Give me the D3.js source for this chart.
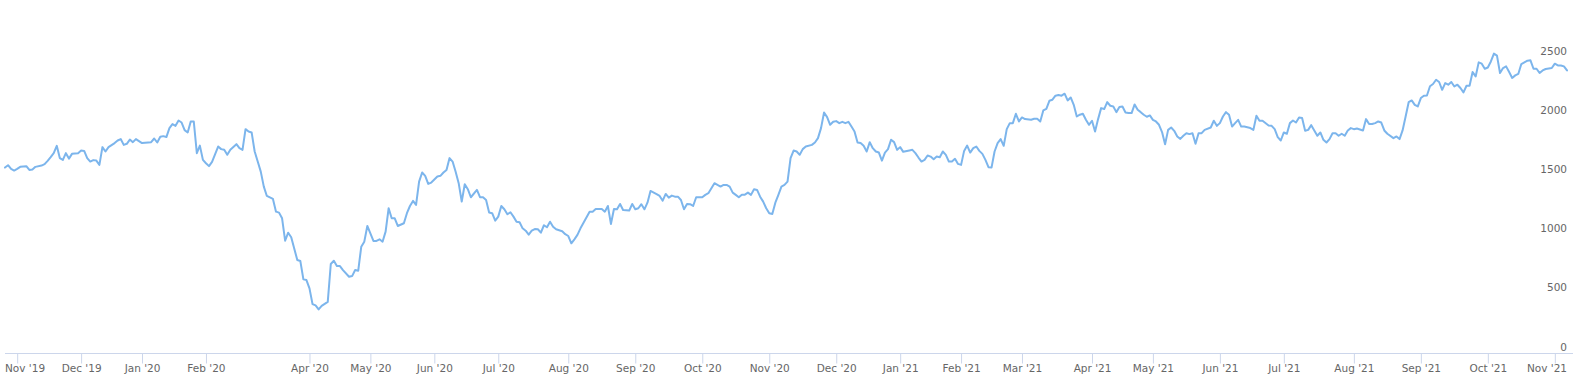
<!DOCTYPE html>
<html>
<head>
<meta charset="utf-8">
<script src="https://cdn.jsdelivr.net/npm/d3@7"></script>
<style>
    body { margin: 0; background: #fff; }
    text { font-family: "DejaVu Sans", Verdana, sans-serif; }
</style>
</head>
<body>
<div id="svganchor"></div>
<script>
let width = 1573;
let height = 385;
let margin = ({top: 58, right: 6, bottom: 31.5, left: 5});

// Trading-day index (ordinal position) of each point
let days = [0,1,2,3,4,5,7,8,9,10,12,13,14,15,16,17,18,19,20,21,22,24,25,26,27,28,29,30,31,32,33,34,36,37,38,39,40,41,42,43,45,47,48,49,50,51,52,53,54,55,56,57,58,59,60,61,62,63,64,65,66,67,68,70,71,72,73,74,76,77,78,79,80,81,82,83,84,85,86,88,89,90,91,92,93,94,96,97,98,99,100,101,102,103,104,106,107,108,109,110,111,113,114,115,116,117,118,119,120,121,122,123,124,125,126,127,128,129,131,132,133,134,135,136,137,138,139,140,142,143,144,145,146,147,148,149,150,151,152,153,155,156,157,158,159,160,161,162,163,164,165,166,167,168,169,170,171,172,173,174,175,176,177,178,179,180,181,183,184,185,186,187,188,189,190,192,193,194,196,197,198,199,200,201,202,203,205,206,207,208,209,210,211,212,214,215,216,217,218,219,220,221,222,223,224,225,226,227,228,229,230,231,232,233,234,235,236,237,238,239,240,241,242,243,244,245,246,247,248,249,250,251,252,253,254,255,256,257,258,259,260,261,262,263,265,266,267,268,269,270,271,272,273,274,275,276,277,278,279,280,281,282,283,284,285,286,287,288,289,290,291,292,293,294,295,297,298,299,300,301,302,303,304,305,306,307,308,309,310,311,312,313,314,315,316,317,318,319,320,321,322,323,324,325,326,327,328,329,330,331,332,333,334,335,337,338,339,340,341,342,343,344,345,346,347,348,349,350,351,352,353,354,355,356,357,358,359,360,361,362,363,364,365,366,367,368,369,370,371,372,373,374,375,376,377,378,379,380,381,382,383,384,385,386,387,388,389,390,391,392,393,394,396,397,398,399,400,401,402,403,404,405,406,407,409,410,411,412,413,415,416,417,418,419,420,421,422,423,424,425,426,427,428,429,430,431,432,433,434,435,436,437,438,439,440,441,442,443,444,446,447,448,449,450,451,452,453,454,456,457,458,459,460,461,462,463,464,465,466,467,468,469,470,471,472,473,474,475,476,477,478,479,480,481,482,483,484,485,486,487,488,489,490,491,492,493,494,495,496,497,498,499,500,501,502,503,504,505,506,508,509,510,511,512,513];

// Price at each of those points
let prices = [1573,1593,1562,1548,1562,1579,1585,1553,1556,1579,1590,1602,1630,1661,1695,1757,1653,1638,1695,1649,1689,1695,1717,1714,1653,1624,1636,1632,1596,1746,1709,1746,1780,1802,1814,1765,1774,1810,1788,1814,1780,1785,1788,1819,1785,1833,1839,1831,1907,1941,1926,1971,1954,1890,1870,1963,1963,1695,1759,1638,1610,1585,1621,1751,1729,1723,1681,1723,1771,1737,1723,1898,1878,1870,1709,1624,1539,1412,1333,1308,1200,1192,1144,954,1022,983,791,782,627,621,551,418,407,373,403,437,757,785,740,740,706,649,655,706,700,903,946,1079,1017,952,952,966,946,1031,1229,1144,1144,1079,1102,1187,1248,1291,1257,1454,1531,1503,1435,1446,1497,1503,1531,1553,1653,1624,1537,1441,1285,1432,1390,1322,1384,1322,1322,1299,1192,1187,1124,1158,1248,1220,1178,1195,1158,1115,1110,1059,1039,1005,1039,1053,1051,1022,1085,1068,1115,1073,1051,1034,1009,994,932,966,1003,1059,1107,1200,1200,1223,1223,1200,1248,1096,1223,1220,1265,1214,1209,1265,1220,1229,1263,1220,1276,1375,1348,1333,1293,1350,1319,1336,1327,1327,1299,1220,1265,1263,1248,1322,1322,1322,1342,1356,1398,1441,1426,1412,1426,1426,1412,1361,1342,1322,1344,1344,1361,1342,1390,1384,1327,1285,1229,1187,1181,1276,1342,1412,1426,1454,1653,1717,1709,1681,1729,1751,1765,1785,1822,1907,2039,2000,1935,1960,1966,1949,1960,1949,1960,1920,1878,1785,1780,1757,1709,1788,1737,1709,1700,1632,1700,1729,1808,1788,1723,1746,1706,1717,1723,1695,1658,1624,1638,1675,1666,1644,1666,1661,1709,1681,1624,1624,1647,1604,1596,1714,1759,1700,1737,1751,1714,1689,1638,1576,1573,1709,1780,1814,1757,1898,1949,1949,2028,1963,1997,1983,1977,1986,1986,1963,2056,2070,2138,2147,2181,2187,2181,2198,2141,2166,2104,2005,2020,2028,1977,1935,1969,1878,1983,2076,2068,2127,2096,2090,2042,2085,2090,2039,2034,2034,2107,2062,2042,2020,2003,2014,1977,1963,1935,1873,1771,1892,1912,1884,1836,1816,1842,1864,1856,1864,1774,1864,1864,1892,1912,1969,1926,1949,2005,2042,2020,1920,1949,1977,1920,1920,1907,1892,2011,1969,1969,1929,1926,1898,1831,1802,1870,1859,1949,1971,1954,1997,1992,1884,1892,1932,1887,1842,1870,1808,1785,1814,1864,1864,1842,1859,1842,1887,1907,1898,1904,1887,1983,1941,1941,1949,1963,1954,1887,1859,1822,1836,1814,1887,2005,2126,2141,2104,2090,2161,2181,2183,2261,2280,2316,2297,2231,2288,2274,2297,2259,2274,2246,2209,2265,2265,2381,2344,2463,2452,2409,2420,2471,2537,2520,2373,2415,2429,2381,2331,2353,2365,2449,2463,2477,2480,2409,2409,2373,2395,2407,2415,2452,2437,2437,2429,2395];

// Month ticks on the ordinal axis (no Mar '20 in the source)
let tickDays = [4,25,45,66,100,120,141,162,185,207,229,251,273,294,314,334,357,377,399,420,443,465,487,509];
let tickLabels = ["Nov '19","Dec '19","Jan '20","Feb '20","Apr '20","May '20","Jun '20","Jul '20","Aug '20","Sep '20","Oct '20","Nov '20","Dec '20","Jan '21","Feb '21","Mar '21","Apr '21","May '21","Jun '21","Jul '21","Aug '21","Sep '21","Oct '21","Nov '21"];

let yTicks = [0, 500, 1000, 1500, 2000, 2500];

let data = days.map((d, i) => ({day: d, price: prices[i]}));

let svg = d3.select("#svganchor")
    .append("svg")
    .attr("width", width)
    .attr("height", height);

let xScale = d3.scaleLinear()
    .domain(d3.extent(days))
    .range([margin.left, width - margin.right]);

let yScale = d3.scaleLinear()
    .domain([0, 2500])
    .range([height - margin.bottom, margin.top]);

// X axis with ticks hanging below the axis line
let xAxis = d3.axisBottom(xScale)
    .tickValues(tickDays)
    .tickFormat((d, i) => tickLabels[i])
    .tickSize(10)
    .tickSizeOuter(0)
    .tickPadding(1);

let gx = svg.append("g")
    .attr("class", "x axis")
    .attr("transform", "translate(0," + (height - margin.bottom) + ")")
    .call(xAxis);

gx.select(".domain").remove();
gx.append("line")
    .attr("x1", margin.left)
    .attr("x2", width)
    .attr("stroke", "#ccd6eb");
gx.selectAll(".tick line").attr("stroke", "#ccd6eb");
gx.selectAll(".tick text")
    .attr("fill", "#666666")
    .style("font-size", "10.5px");

// Keep edge labels inside the chart, the way the original does
gx.selectAll(".tick text").each(function() {
    let t = d3.select(this);
    let tick = this.parentNode.transform.baseVal.consolidate().matrix.e;
    let w = this.getComputedTextLength();
    let shift = 0;
    if (tick - w / 2 < margin.left) shift = margin.left - (tick - w / 2);
    if (tick + w / 2 > width - margin.right) shift = (width - margin.right) - (tick + w / 2);
    t.attr("x", shift);
});

// Y labels sit just above their (hidden) grid positions, right aligned
svg.append("g")
    .attr("class", "y axis")
    .selectAll("text")
    .data(yTicks)
    .enter()
    .append("text")
    .attr("x", width - margin.right)
    .attr("y", d => yScale(d) - 3)
    .attr("text-anchor", "end")
    .attr("fill", "#666666")
    .style("font-size", "10.5px")
    .text(d => d);

let line = d3.line()
    .x(d => xScale(d.day))
    .y(d => yScale(d.price));

svg.append("path")
    .datum(data)
    .attr("fill", "none")
    .attr("stroke", "#7cb5ec")
    .attr("stroke-width", 2)
    .attr("stroke-linejoin", "round")
    .attr("stroke-linecap", "round")
    .attr("d", line);
</script>
</body>
</html>
